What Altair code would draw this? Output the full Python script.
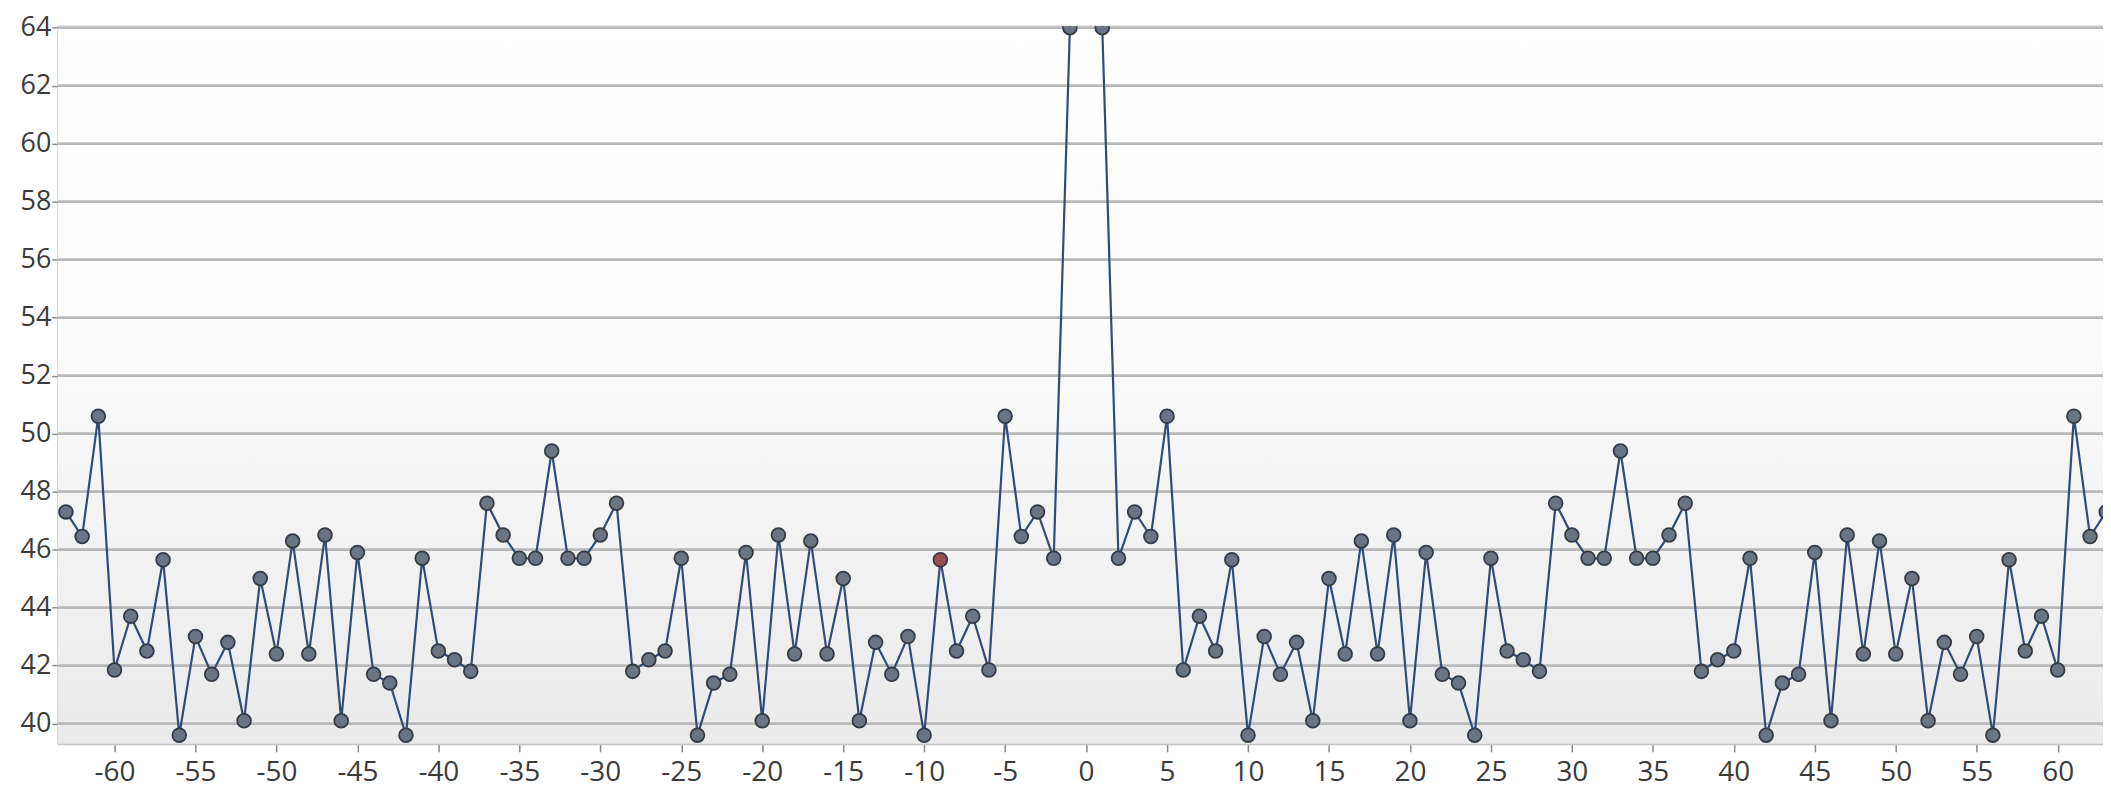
import altair as alt
import pandas as pd

x_vals = [-63, -62, -61, -60, -59, -58, -57, -56, -55, -54, -53, -52, -51, -50,
          -49, -48, -47, -46, -45, -44, -43, -42, -41, -40, -39, -38, -37, -36,
          -35, -34, -33, -32, -31, -30, -29, -28, -27, -26, -25, -24, -23, -22,
          -21, -20, -19, -18, -17, -16, -15, -14, -13, -12, -11, -10, -9, -8,
          -7, -6, -5, -4, -3, -2, -1, 0,
          1, 2, 3, 4, 5, 6, 7, 8, 9, 10, 11, 12, 13, 14, 15, 16, 17, 18, 19,
          20, 21, 22, 23, 24, 25, 26, 27, 28, 29, 30, 31, 32, 33, 34, 35, 36,
          37, 38, 39, 40, 41, 42, 43, 44, 45, 46, 47, 48, 49, 50, 51, 52, 53,
          54, 55, 56, 57, 58, 59, 60, 61, 62, 63]

# value at 0 lies far above the visible range (clipped in the original)
y_vals = [47.3, 46.45, 50.6, 41.85, 43.7, 42.5, 45.65, 39.6, 43.0, 41.7, 42.8, 40.1, 45.0, 42.4,
          46.3, 42.4, 46.5, 40.1, 45.9, 41.7, 41.4, 39.6, 45.7, 42.5, 42.2, 41.8, 47.6, 46.5,
          45.7, 45.7, 49.4, 45.7, 45.7, 46.5, 47.6, 41.8, 42.2, 42.5, 45.7, 39.6, 41.4, 41.7,
          45.9, 40.1, 46.5, 42.4, 46.3, 42.4, 45.0, 40.1, 42.8, 41.7, 43.0, 39.6, 45.65, 42.5,
          43.7, 41.85, 50.6, 46.45, 47.3, 45.7, 64.0, 72.0,
          64.0, 45.7, 47.3, 46.45, 50.6, 41.85, 43.7, 42.5, 45.65, 39.6, 43.0, 41.7, 42.8, 40.1,
          45.0, 42.4, 46.3, 42.4, 46.5, 40.1, 45.9, 41.7, 41.4, 39.6, 45.7, 42.5, 42.2, 41.8,
          47.6, 46.5, 45.7, 45.7, 49.4, 45.7, 45.7, 46.5, 47.6, 41.8, 42.2, 42.5, 45.7, 39.6,
          41.4, 41.7, 45.9, 40.1, 46.5, 42.4, 46.3, 42.4, 45.0, 40.1, 42.8, 41.7, 43.0, 39.6,
          45.65, 42.5, 43.7, 41.85, 50.6, 46.45, 47.3]

highlight_x = [-9]

x_ticks = [-60, -55, -50, -45, -40, -35, -30, -25, -20, -15, -10, -5, 0,
           5, 10, 15, 20, 25, 30, 35, 40, 45, 50, 55, 60]
y_ticks = [40, 42, 44, 46, 48, 50, 52, 54, 56, 58, 60, 62, 64]

df = pd.DataFrame({"x": x_vals, "y": y_vals})
df["hl"] = df["x"].isin(highlight_x)
grid_df = pd.DataFrame({"g": y_ticks})

W, H = 2052, 720
FONT = "Open Sans"

xscale = alt.Scale(domain=[-63.5, 62.8], nice=False, zero=False)
yscale = alt.Scale(domain=[39.3, 64.05], nice=False, zero=False)

x_enc = alt.X("x:Q", scale=xscale, title=None,
              axis=alt.Axis(values=x_ticks, grid=False, labelExpr="'' + datum.value",
                            labelFont=FONT, labelFontSize=28, labelColor="#3a3a3a",
                            tickColor="#8a8a8a", tickSize=8, tickWidth=1.5,
                            labelPadding=7, domainColor="#c4c4c4", domainWidth=2,
                            labelFlush=False))
y_enc = alt.Y("y:Q", scale=yscale, title=None,
              axis=alt.Axis(values=y_ticks, grid=False,
                            labelFont=FONT, labelFontSize=27, labelColor="#3a3a3a",
                            tickColor="#8a8a8a", tickSize=6, tickWidth=1.5,
                            labelPadding=1, domainColor="#cfcfcf", domainWidth=1.5))

bg = alt.Chart(pd.DataFrame({"a": [0]})).mark_rect(
    fill=alt.LinearGradient(
        gradient="linear",
        stops=[
            alt.GradientStop(color="#ffffff", offset=0),
            alt.GradientStop(color="#fcfcfc", offset=0.4),
            alt.GradientStop(color="#eaeaea", offset=1),
        ],
        x1=0, x2=0, y1=0, y2=1,
    )
).encode(x=alt.value(0), x2=alt.value(W), y=alt.value(0), y2=alt.value(H))

grid = alt.Chart(grid_df).mark_rule(color="#b9b9b9", strokeWidth=2.8).encode(
    y=alt.Y("g:Q", scale=yscale)
)

base = alt.Chart(df)

line = base.mark_line(color="#2f4b7a", strokeWidth=2.2, clip=True).encode(x=x_enc, y=y_enc)

points = base.mark_circle(size=190, opacity=1, stroke="#343b47", strokeWidth=1.8, clip=True).encode(
    x=alt.X("x:Q", scale=xscale),
    y=alt.Y("y:Q", scale=yscale),
    fill=alt.condition(alt.datum.hl, alt.value("#9c4d4d"), alt.value("#6b7483")),
)

chart = (
    alt.layer(bg, grid, line, points)
    .properties(
        width=W,
        height=H,
        padding={"left": 50, "top": 17, "right": 0, "bottom": 46},
        autosize=alt.AutoSizeParams(type="none"),
        background="#ffffff",
    )
    .configure_view(stroke="#cfcfcf", strokeWidth=1.5)
)

chart.save("out.html", embed_options={"renderer": "svg", "actions": False})
